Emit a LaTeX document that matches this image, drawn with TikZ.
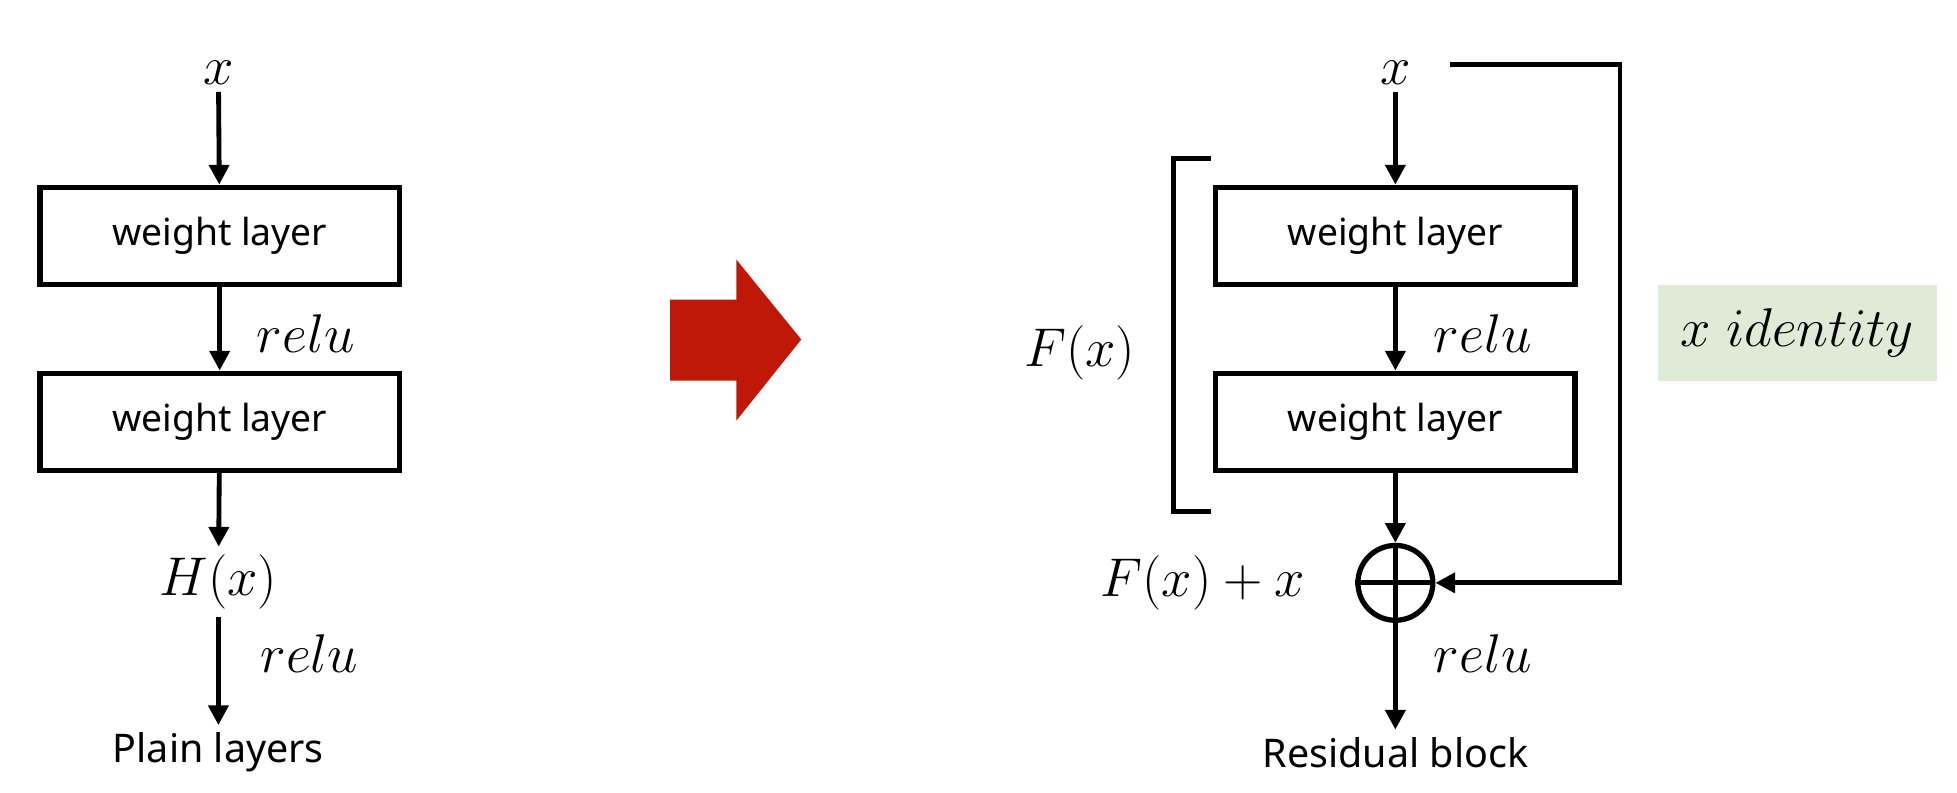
\documentclass[tikz,border=0pt]{standalone}
\usepackage{fontspec}
\setsansfont{Noto Sans}
\usetikzlibrary{arrows.meta}
\definecolor{idgreen}{RGB}{223,235,214}
\definecolor{bigred}{RGB}{192,24,8}
\tikzset{
  layer/.style={draw,line width=2.4pt,minimum width=5.76cm,minimum height=1.56cm,
    font=\sffamily\fontsize{17}{20}\selectfont},
  flow/.style={line width=2.2pt,-{Triangle[length=9pt,width=9pt]}},
  mathlbl/.style={font=\fontsize{23}{26}\selectfont},
  caption/.style={font=\sffamily\fontsize{18}{22}\selectfont}
}
\begin{document}
\begin{tikzpicture}[x=0.02cm,y=-0.02cm]
\useasboundingbox (0,0) rectangle (1568,635);
% plain layers
\node[mathlbl] (xin) at (175,58) {$x$};
\node[layer] (wa) at (176,189) {weight layer};
\node[layer] (wb) at (176,338) {weight layer};
\node[mathlbl] (hx) at (175,466) {$H(x)$};
\node[caption] (plain) at (175,603) {Plain layers};
\node[mathlbl] at (245,267) {$relu$};
\node[mathlbl] at (248,524) {$relu$};
\draw[flow] (xin) -- (wa);
\draw[flow] (wa) -- (wb);
\draw[flow] (wb) -- (hx);
\draw[flow] (hx) -- (plain);

% big arrow
\fill[bigred] (537,240) -- (590,240) -- (590,208) -- (642,272) -- (590,337) -- (590,305) -- (537,305) -- cycle;

% residual block
\node[mathlbl] (rx) at (1118,58) {$x$};
\node[layer] (ra) at (1118,189) {weight layer};
\node[layer] (rb) at (1118,338) {weight layer};
\node[draw,circle,line width=2.4pt,minimum size=1.2cm,inner sep=0pt] (sum) at (1118,467) {};
\draw[line width=2.4pt] (sum.north) -- (sum.south) (sum.west) -- (sum.east);
\node[mathlbl,anchor=east] at (1052,467) {$F(x)+x$};
\node[caption] (res) at (1118,603) {Residual block};
\node[mathlbl] at (1188,267) {$relu$};
\node[mathlbl] at (1188,524) {$relu$};
\node[mathlbl] at (865,283) {$F(x)$};
\node[mathlbl,fill=idgreen,minimum width=4.48cm,minimum height=1.54cm] at (1440,267) {$x\ identity$};
\draw[flow] (rx) -- (ra);
\draw[flow] (ra) -- (rb);
\draw[flow] (rb) -- (sum);
\draw[flow] (sum) -- (res);
\coordinate (skip) at (1162,52);
\draw[flow] (skip) -- (1298,52) |- (sum.east);
\draw[line width=2.4pt] (970,127) -- (940,127) -- (940,410) -- (970,410);
\end{tikzpicture}
\end{document}
